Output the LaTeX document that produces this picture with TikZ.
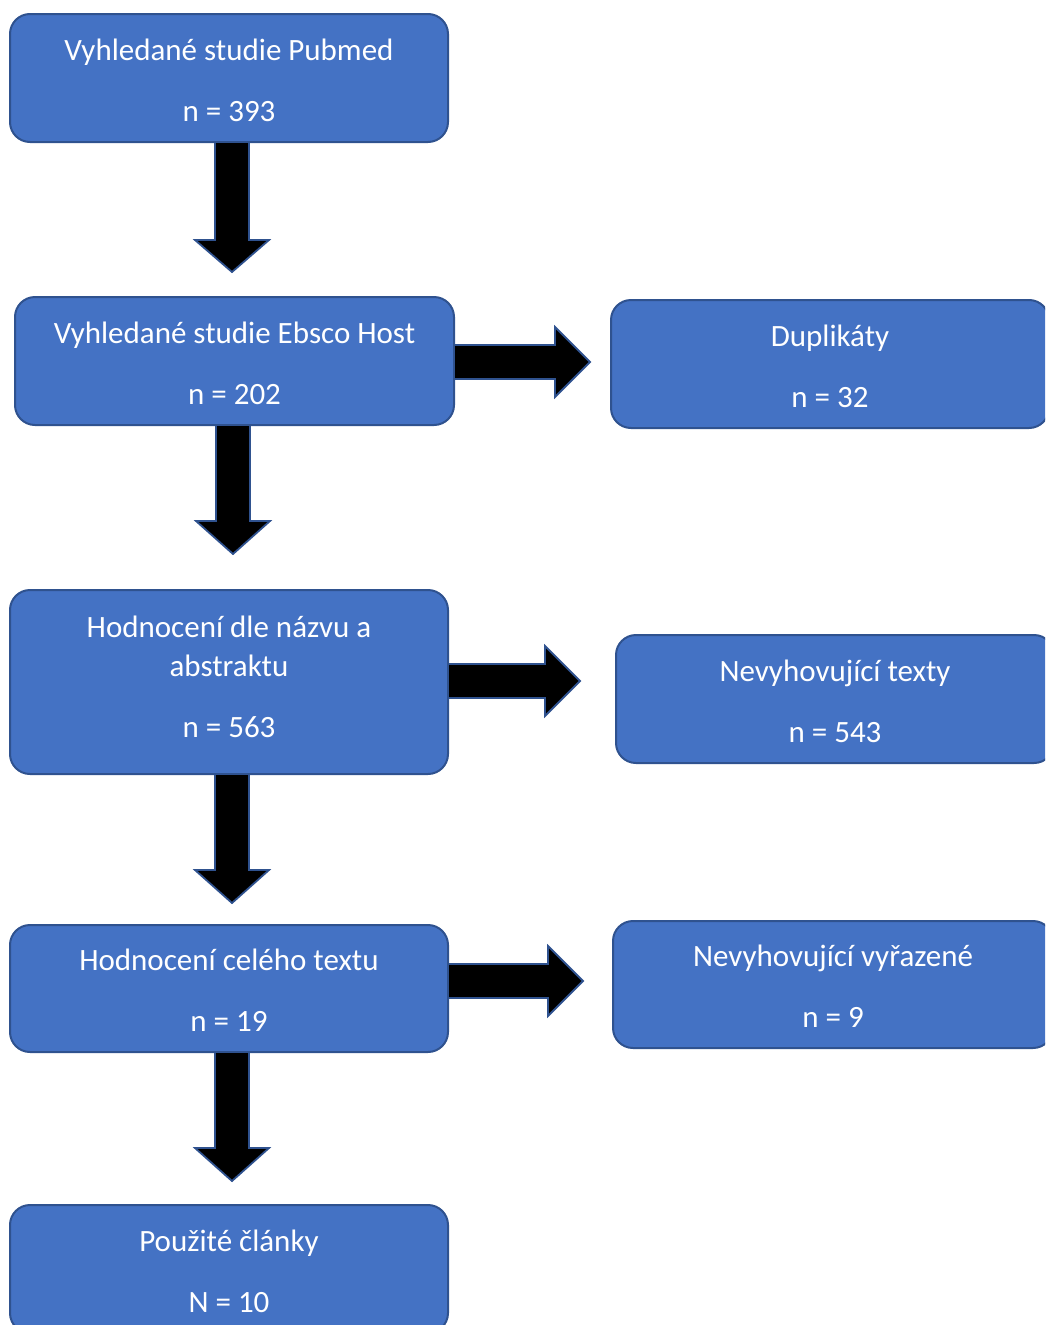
\documentclass[tikz,border=0pt]{standalone}
\usepackage{fontspec}
\setmainfont{Carlito}
\definecolor{boxfill}{HTML}{4472C4}
\definecolor{boxline}{HTML}{2F528F}
\tikzset{
  box/.style={draw=boxline, fill=boxfill, line width=2pt, rounded corners=20pt,
    anchor=north west, inner sep=0pt},
  txt/.style={text=white, align=center, inner sep=0pt,
    font=\fontsize{31}{39}\selectfont},
  blk/.style={draw=boxline, fill=black, line width=1.8pt, line join=miter}
}
\newcommand\darr[4]{\draw[blk] ({#1-17},#2) -- ({#1-17},#3) -- ({#1-37},#3) -- (#1,#4) -- ({#1+37},#3) -- ({#1+17},#3) -- ({#1+17},#2) -- cycle;}
\newcommand\rarr[4]{\draw[blk] (#1,{#2-17}) -- (#3,{#2-17}) -- (#3,{#2-35}) -- (#4,#2) -- (#3,{#2+35}) -- (#3,{#2+17}) -- (#1,{#2+17}) -- cycle;}
\begin{document}
\begin{tikzpicture}[x=1pt,y=-1pt]
\useasboundingbox (0,0) rectangle (1045,1325);
\clip (0,0) rectangle (1045,1325);
\node[box, minimum width=438pt, minimum height=128pt] (b1) at (9,13) {};
\node[txt] (t1) at ([yshift=-2pt]b1.center) {Vyhledané studie Pubmed\\[22pt]n = 393};
\node[box, minimum width=439pt, minimum height=128pt] (b2) at (14,296) {};
\node[txt] (t2) at ([yshift=-2pt]b2.center) {Vyhledané studie Ebsco Host\\[22pt]n = 202};
\node[box, minimum width=438pt, minimum height=128pt] (d1) at (610,299) {};
\node[txt] (u1) at ([yshift=-2pt]d1.center) {Duplikáty\\[22pt]n = 32};
\node[box, minimum width=438pt, minimum height=184pt] (b3) at (9,589) {};
\node[txt] (t3) at ([yshift=5pt]b3.center) {Hodnocení dle názvu a\\abstraktu\\[22pt]n = 563};
\node[box, minimum width=438pt, minimum height=128pt] (d2) at (615,634) {};
\node[txt] (u2) at ([yshift=-2pt]d2.center) {Nevyhovující texty\\[22pt]n = 543};
\node[box, minimum width=440pt, minimum height=127pt] (d3) at (612,920) {};
\node[txt] (u3) at ([yshift=-2pt]d3.center) {Nevyhovující vyřazené\\[22pt]n = 9};
\node[box, minimum width=438pt, minimum height=127pt] (b4) at (9,924) {};
\node[txt] (t4) at ([yshift=-2pt]b4.center) {Hodnocení celého textu\\[22pt]n = 19};
\node[box, minimum width=438pt, minimum height=128pt] (b5) at (9,1204) {};
\node[txt] (t5) at ([yshift=-2pt]b5.center) {Použité články\\[22pt]N = 10};
% down arrows
\darr{232}{142}{240}{272}
\darr{233}{425}{521}{554}
\darr{232}{774}{870}{903}
\darr{232}{1052}{1148}{1181}
% right arrows
\rarr{454}{362}{555}{590}
\rarr{448}{681}{545}{580}
\rarr{448}{981}{548}{583}
\end{tikzpicture}
\end{document}
